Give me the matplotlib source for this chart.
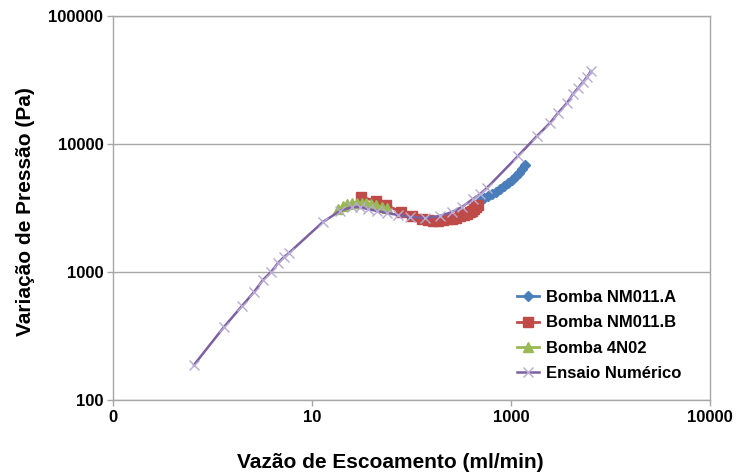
import matplotlib
matplotlib.use("Agg")
import matplotlib.pyplot as plt
from matplotlib.ticker import FixedLocator, NullLocator, FixedFormatter

plt.rcParams['font.family'] = ['Liberation Sans', 'DejaVu Sans']

# Bomba NM011.A
q_a = [288, 306, 326, 346, 368, 392, 417, 443, 472, 501, 525, 550, 576]
dp_a = [3590, 3785, 3924, 4068, 4217, 4450, 4700, 4960, 5236, 5623, 5934, 6378, 6854]

# Bomba NM011.B
q_b = [45.9, 57.8, 67.5, 85.1, 100.8, 117.6, 129.0, 139.4, 150.5, 162.6, 175.6,
       186.8, 198.7, 211.3, 224.8, 235.5, 246.6, 254.3, 262.3, 270.5, 279.0]
dp_b = [3854, 3587, 3337, 2943, 2738, 2595, 2549, 2525, 2525, 2549, 2572,
        2595, 2642, 2714, 2788, 2864, 2943, 3023, 3106, 3219, 3337]

# Bomba 4N02
q_c = [32.2, 34.8, 37.0, 39.9, 43.1, 46.6, 49.6, 53.5, 57.8, 63.4, 68.5]
dp_c = [3106, 3277, 3398, 3460, 3491, 3491, 3460, 3398, 3337, 3219, 3162]

# Ensaio Numérico
q_n = [3.49, 5.54, 7.32, 8.81, 10.1, 11.45, 12.75, 14.0, 15.1, 25.5, 33.2, 39.9,
       45.2, 51.1, 58.7, 68.5, 81.2, 97.7, 123.2, 155.2, 186.8, 218, 258, 288,
       320, 517, 693, 847, 959, 1101, 1208, 1305, 1410, 1499, 1595]
dp_n = [188, 372, 543, 698, 866, 1000, 1176, 1310, 1408, 2460, 3000, 3220,
        3220, 3106, 2998, 2891, 2788, 2690, 2642, 2738, 2943, 3220, 3718, 4068,
        4532, 8058, 11548, 14590, 17470, 20910, 24590, 27380, 30500, 33380, 37170]

x_tick_labels = ["0", "10", "1000", "10000"]
y_ticks = [100, 1000, 10000, 100000]
y_tick_labels = ["100", "1000", "10000", "100000"]

fig = plt.figure(figsize=(7.45, 4.74), dpi=100)
ax = fig.add_axes([113 / 745, 74 / 474, 597 / 745, 384 / 474])
ax.set_xscale('log')
ax.set_yscale('log')
ax.set_xlim(1, 1e4)
ax.set_ylim(100, 1e5)

ax.plot(q_a, dp_a, color='#4A7EBB', lw=2, marker='D', ms=5,
        label='Bomba NM011.A', zorder=3)
ax.plot(q_b, dp_b, color='#BE4B48', lw=2, marker='s', ms=7,
        label='Bomba NM011.B', zorder=4)
ax.plot(q_c, dp_c, color='#98B954', lw=2, marker='^', ms=7,
        label='Bomba 4N02', zorder=5)
ax.plot(q_n, dp_n, color='#7D60A0', lw=1.8, marker='x', ms=6.5, mew=1,
        mec='#B9ABD5', label='Ensaio Numérico', zorder=6)

# x axis: four evenly spaced labelled ticks across the four decades
x_ticks = [10 ** (4 * k / 3) for k in range(4)]
ax.xaxis.set_major_locator(FixedLocator(x_ticks))
ax.xaxis.set_major_formatter(FixedFormatter(x_tick_labels))
ax.xaxis.set_minor_locator(NullLocator())
ax.yaxis.set_major_locator(FixedLocator(y_ticks))
ax.yaxis.set_major_formatter(FixedFormatter(y_tick_labels))
ax.yaxis.set_minor_locator(NullLocator())

ax.grid(axis='y', color='#A6A6A6', lw=1)
ax.set_axisbelow(True)
for side in ['left', 'right', 'bottom', 'top']:
    ax.spines[side].set_color('#A6A6A6')
    ax.spines[side].set_linewidth(1)

ax.tick_params(axis='both', direction='out', length=4, color='#A6A6A6',
               labelsize=12, width=1)
ax.tick_params(axis='y', pad=3)
ax.tick_params(axis='x', pad=3)
for lab in ax.get_xticklabels() + ax.get_yticklabels():
    lab.set_fontweight('bold')

fig.text(390 / 745, 1 - 462 / 474, 'Vazão de Escoamento (ml/min)',
         ha='center', va='center', fontsize=15, fontweight='bold')
fig.text(26 / 745, 1 - 212 / 474, 'Variação de Pressão (Pa)', rotation=90,
         ha='center', va='center', fontsize=15, fontweight='bold')

leg = ax.legend(loc='upper left', bbox_to_anchor=(517 / 745, 1 - 290 / 474),
                bbox_transform=fig.transFigure, frameon=False,
                prop={'size': 12, 'weight': 'bold'}, handlelength=1.3,
                handletextpad=0.45, labelspacing=0.62, borderpad=0,
                borderaxespad=0)

fig.savefig('out.png', dpi=100)
